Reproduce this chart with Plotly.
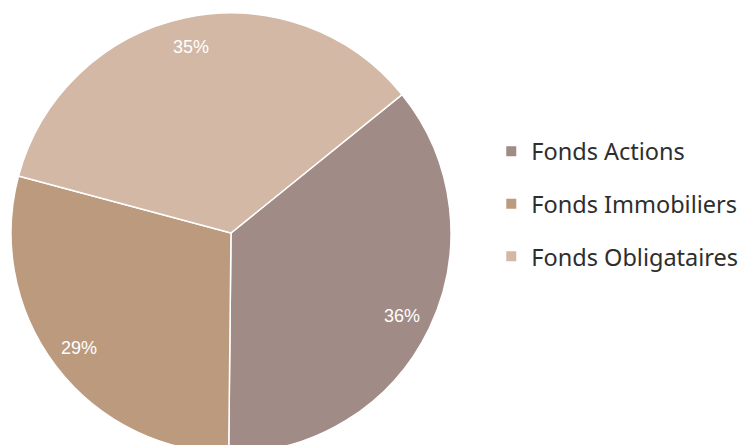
import math
import plotly.graph_objects as go

labels = ["Fonds Actions", "Fonds Immobiliers", "Fonds Obligataires"]
values = [36, 29, 35]
colors = ["#A08B86", "#BC9A7D", "#D3B8A5"]
rotation = 51

# pie placement (paper coordinates)
dom_x = [0, 440 / 731]
dom_y = [0, 1]
cx, cy = sum(dom_x) / 2, sum(dom_y) / 2
rx, ry = (dom_x[1] - dom_x[0]) / 2, (dom_y[1] - dom_y[0]) / 2
label_r = 0.865

fig = go.Figure()
fig.add_trace(go.Pie(
    labels=labels, values=values, sort=False, direction="clockwise", rotation=rotation,
    marker=dict(colors=colors, line=dict(color="white", width=1.5)),
    textinfo="none",
    domain=dict(x=dom_x, y=dom_y), showlegend=False,
    hoverinfo="label+percent"))

total = sum(values)
start = rotation
for lab, v in zip(labels, values):
    span = v / total * 360
    mid = math.radians(start + span / 2)
    start += span
    fig.add_annotation(
        x=cx + label_r * rx * math.sin(mid), y=cy + label_r * ry * math.cos(mid),
        xref="paper", yref="paper", xanchor="center", yanchor="middle",
        showarrow=False,
        text=f"{round(v / total * 100)}%",
        font=dict(color="white", size=18, family="Liberation Sans, Arial"))

for lab, col in zip(labels, colors):
    fig.add_trace(go.Scatter(
        x=[None], y=[None], mode="markers", name=lab, legendgroup=lab,
        marker=dict(symbol="square", size=10, color=col), showlegend=True))

fig.update_layout(
    width=742, height=455, autosize=False,
    margin=dict(l=11, r=0, t=13, b=2, autoexpand=False),
    paper_bgcolor="white", plot_bgcolor="rgba(0,0,0,0)",
    xaxis=dict(visible=False), yaxis=dict(visible=False),
    legend=dict(x=0.657, y=0.566, xanchor="left", yanchor="middle",
                tracegroupgap=19, bgcolor="rgba(0,0,0,0)",
                font=dict(size=23.5, color="#2e2e2e", family="Noto Sans")),
)

fig.write_html("out.html", post_script="document.body.style.overflow='hidden';document.documentElement.style.overflow='hidden';")
